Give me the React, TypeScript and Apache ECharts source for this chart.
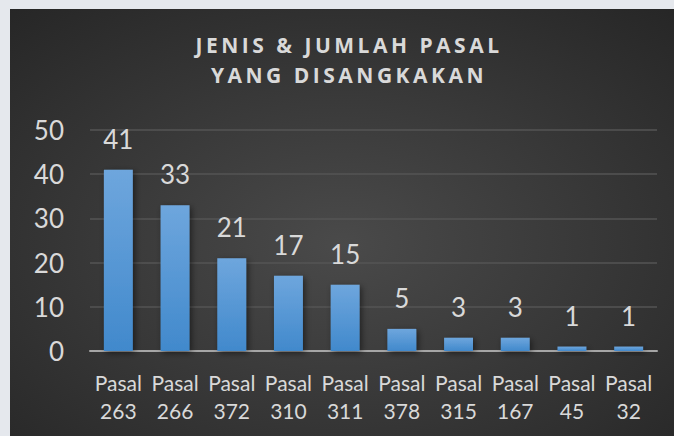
import React, { useEffect, useRef } from "react";
import * as echarts from "echarts";

const categories = ["Pasal\n263", "Pasal\n266", "Pasal\n372", "Pasal\n310", "Pasal\n311", "Pasal\n378", "Pasal\n315", "Pasal\n167", "Pasal\n45", "Pasal\n32"];
const values = [41, 33, 21, 17, 15, 5, 3, 3, 1, 1];
const titleLines = ["JENIS & JUMLAH PASAL", "YANG DISANGKAKAN"];

const FONT = "Lato";
const TITLE_FONT = "Open Sans";
const TXT = "#d9d9d9";

export default function App() {
  const ref = useRef<HTMLDivElement>(null);
  useEffect(() => {
    const chart = echarts.init(ref.current!, null, { renderer: "svg" });
    chart.setOption({
      animation: false,
      backgroundColor: {
        type: "radial",
        x: 0.5,
        y: 0.55,
        r: 0.75,
        colorStops: [
          { offset: 0, color: "#4a4a4a" },
          { offset: 1, color: "#262626" },
        ],
      },
      graphic: [
        {
          type: "text",
          x: 339,
          y: 21,
          style: {
            text: titleLines.join("\n"),
            fill: TXT,
            fontFamily: TITLE_FONT,
            fontWeight: "bold",
            fontSize: 21,
            lineHeight: 30,
            align: "center",
            textAlign: "center",
          },
        },
      ],
      grid: { left: 80, right: 17, top: 121, bottom: 85, containLabel: false },
      xAxis: {
        type: "category",
        data: categories,
        axisLine: { lineStyle: { color: "#a6a6a6", width: 2 } },
        axisTick: { show: false },
        axisLabel: {
          color: TXT,
          fontFamily: FONT,
          fontSize: 21,
          lineHeight: 28,
          margin: 17,
          interval: 0,
        },
      },
      yAxis: {
        type: "value",
        min: 0,
        max: 50,
        interval: 10,
        axisLine: { show: false },
        axisTick: { show: false },
        splitLine: { lineStyle: { color: "#555555", width: 1.5 } },
        axisLabel: { color: TXT, fontFamily: FONT, fontSize: 26, margin: 26 },
      },
      series: [
        {
          type: "bar",
          data: values,
          barWidth: "51%",
          itemStyle: {
            color: {
              type: "linear",
              x: 0,
              y: 0,
              x2: 0,
              y2: 1,
              colorStops: [
                { offset: 0, color: "#6ea6dd" },
                { offset: 1, color: "#4189cc" },
              ],
            },
            shadowColor: "rgba(0,0,0,0.5)",
            shadowBlur: 6,
            shadowOffsetX: 2,
            shadowOffsetY: 2,
          },
          label: {
            show: true,
            position: "top",
            distance: 18,
            color: TXT,
            fontFamily: FONT,
            fontSize: 26,
          },
        },
      ],
    });
    return () => chart.dispose();
  }, []);
  return (
    <div style={{ position: "fixed", left: 0, top: 0, width: 674, height: 436, background: "#e5e8ed" }}>
      <style>{`.chartbox svg text[style*="Open Sans"], .chartbox svg text[font-family*="Open Sans"] { letter-spacing: 3.5px; }`}</style>
      <div className="chartbox" ref={ref} style={{ position: "absolute", left: 10, top: 9, width: 664, height: 427 }} />
    </div>
  );
}
